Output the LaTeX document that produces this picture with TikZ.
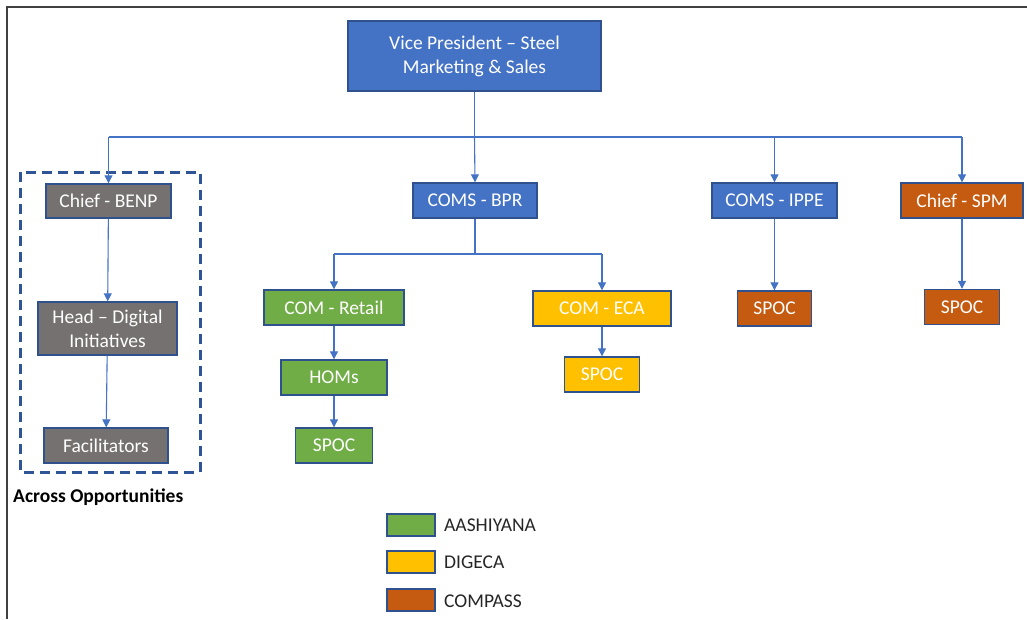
\documentclass[tikz,border=0pt]{standalone}
\usepackage{fontspec}
\setmainfont{Carlito}
\usetikzlibrary{arrows.meta}
\definecolor{cblue}{HTML}{4472C4}
\definecolor{cborder}{HTML}{2F528F}
\definecolor{cgray}{HTML}{767171}
\definecolor{cgreen}{HTML}{70AD47}
\definecolor{cyellow}{HTML}{FFC000}
\definecolor{corange}{HTML}{C55A11}
\definecolor{cdash}{HTML}{2F5597}
\definecolor{ctext}{HTML}{262626}
\definecolor{cframe}{HTML}{404040}
\tikzset{
  box/.style={draw=cborder, line width=1.4pt, text=white, inner sep=0pt, align=center,
    font=\fontsize{19.5}{24}\selectfont},
  conn/.style={draw=cblue, line width=1.1pt},
  arr/.style={conn, -{Triangle[length=8pt,width=8pt]}},
  legbox/.style={draw=cborder, line width=1.4pt, minimum width=48pt, minimum height=22pt, inner sep=0pt},
  legtext/.style={anchor=west, text=ctext, inner sep=0pt, font=\fontsize{19.5}{24}\selectfont},
}
\begin{document}
\begin{tikzpicture}[x=1pt,y=-1pt]
\useasboundingbox (0,0) rectangle (1027,619);
% frame
\draw[cframe, line width=1.4pt] (7,619) -- (7,7) -- (1027,7);
% nodes
\node[box, fill=cblue, minimum width=253pt, minimum height=70pt] (vp) at (474.5,56) {Vice President – Steel\\Marketing \& Sales};
\node[box, fill=cgray, minimum width=125pt, minimum height=34pt] (benp) at (108.5,201) {Chief - BENP};
\node[box, fill=cgray, minimum width=139pt, minimum height=53pt] (head) at (107.5,328.5) {Head – Digital\\Initiatives};
\node[box, fill=cgray, minimum width=124pt, minimum height=35pt] (fac) at (106,445.5) {Facilitators};
\node[box, fill=cblue, minimum width=124pt, minimum height=35pt] (bpr) at (475,200.5) {COMS - BPR};
\node[box, fill=cblue, minimum width=125pt, minimum height=35pt] (ippe) at (774.5,200.5) {COMS - IPPE};
\node[box, fill=corange, minimum width=122pt, minimum height=35pt] (spm) at (962,200.5) {Chief - SPM};
\node[box, fill=cgreen, minimum width=140pt, minimum height=35pt] (retail) at (334,307.5) {COM - Retail};
\node[box, fill=cgreen, minimum width=106pt, minimum height=35pt] (homs) at (334,377.5) {HOMs};
\node[box, fill=cgreen, minimum width=77pt, minimum height=35pt] (spocg) at (334,445.5) {SPOC};
\node[box, fill=cyellow, minimum width=138pt, minimum height=35pt] (eca) at (602,308.5) {COM - ECA};
\node[box, fill=cyellow, minimum width=75pt, minimum height=35pt] (spocy) at (602,374.5) {SPOC};
\node[box, fill=corange, minimum width=74pt, minimum height=35pt] (spoci) at (774.5,308.5) {SPOC};
\node[box, fill=corange, minimum width=75pt, minimum height=35pt] (spocs) at (962,307) {SPOC};
% dashed group
\draw[cdash, line width=3pt, dash pattern=on 10pt off 6pt] (20,172) rectangle (200,472);
\node[anchor=west, inner sep=0pt, font=\fontsize{19.5}{24}\selectfont\bfseries, text=black] (across) at (13,497) {Across Opportunities};
% connectors
\coordinate (j1) at (474.5,137);
\coordinate (j1l) at (108.5,137);
\coordinate (j1r) at (962,137);
\draw[conn] (vp.south) -- (j1);
\draw[conn] (j1l) -- (j1r);
\draw[arr] (j1l) -- (benp.north);
\draw[arr] (j1) -- (bpr.north);
\draw[arr] (ippe.north |- j1) -- (ippe.north);
\draw[arr] (j1r) -- (spm.north);
\coordinate (j2) at (475,254);
\draw[conn] (bpr.south) -- (j2);
\draw[conn] (retail.north |- j2) -- (eca.north |- j2);
\draw[arr] (retail.north |- j2) -- (retail.north);
\draw[arr] (eca.north |- j2) -- (eca.north);
\draw[arr] (retail) -- (homs);
\draw[arr] (homs) -- (spocg);
\draw[arr] (eca) -- (spocy);
\draw[arr] (ippe) -- (spoci);
\draw[arr] (spm) -- (spocs);
\draw[arr] (benp) -- (head);
\draw[arr] (head) -- (fac);
% legend
\node[legbox, fill=cgreen] (lg) at (411,525) {};
\node[legbox, fill=cyellow] (ly) at (411,562) {};
\node[legbox, fill=corange] (lo) at (411,600) {};
\node[legtext] (lgt) at (444,525) {AASHIYANA};
\node[legtext] (lyt) at (444,562) {DIGECA};
\node[legtext] (lot) at (444,601) {COMPASS};
\end{tikzpicture}
\end{document}
